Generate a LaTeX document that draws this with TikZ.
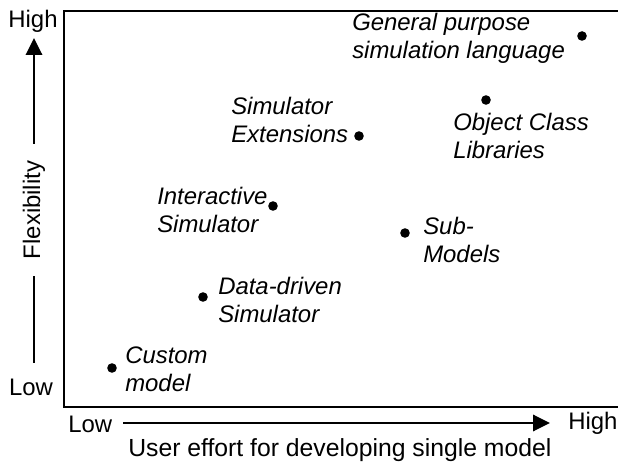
\documentclass[tikz,border=0pt]{standalone}
\usepackage{fontspec}
\setmainfont{Liberation Sans}
\usetikzlibrary{arrows.meta}

\newcommand{\chartfont}{\fontsize{17}{19.9}\selectfont}

\tikzset{
    tool/.style={circle, fill, inner sep=0pt, minimum size=2.4mm},
    toollabel/.style={inner sep=0pt, anchor=north west, align=left, font=\chartfont\itshape},
    axislabel/.style={inner sep=0pt, font=\chartfont},
}

\begin{document}
\begin{tikzpicture}
    \useasboundingbox (0, 0) rectangle (15.45, 11.55);

    % frame (open on the right)
    \draw[line width=1.4pt] (15.6, 11.275) -- (1.6, 11.275) -- (1.6, 1.375) -- (15.6, 1.375);

    % axes
    \node[axislabel, rotate=90, inner xsep=4.2mm] (flex) at (0.85, 6.3) {Flexibility};
    \node[axislabel, anchor=base] (yhigh) at (0.825, 10.85) {High};
    \node[axislabel, anchor=base] (ylow) at (0.775, 1.65) {Low};
    \coordinate (ybot) at (0.85, 2.475);
    \coordinate (ytop) at (0.85, 10.6);

    \node[axislabel, anchor=base west] (xlow) at (1.7, 0.75) {Low};
    \node[axislabel, anchor=base west] (xhigh) at (14.2, 0.825) {High};
    \node[axislabel, anchor=base west, font=\fontsize{17.6}{20}\selectfont] (effort) at (3.2, 0.15) {User effort for developing single model};
    \coordinate (xleft) at (3.075, 0.975);
    \coordinate (xright) at (13.75, 0.975);

    \begin{scope}[line width=2pt]
        \draw (ybot) -- (flex.west);
        \draw[-{Triangle[length=4.2mm, width=4mm]}] (flex.east) -- (ytop);
        \draw[-{Triangle[length=4.2mm, width=4mm]}] (xleft) -- (xright);
    \end{scope}

    % tools
    \node[tool] (custom) at (2.8, 2.35) {};
    \node[tool] (datadriven) at (5.075, 4.125) {};
    \node[tool] (interactive) at (6.825, 6.4) {};
    \node[tool] (extensions) at (8.975, 8.15) {};
    \node[tool] (submodels) at (10.125, 5.725) {};
    \node[tool] (objclass) at (12.15, 9.05) {};
    \node[tool] (general) at (14.55, 10.65) {};

    \node[toollabel] (customlabel) at (3.125, 2.875) {Custom \\ model};
    \node[toollabel] (datadrivenlabel) at (5.45, 4.625) {Data-driven \\ Simulator};
    \node[toollabel] (interactivelabel) at (3.925, 6.875) {Interactive \\ Simulator};
    \node[toollabel] (extensionslabel) at (5.775, 9.125) {Simulator \\ Extensions};
    \node[toollabel] (submodelslabel) at (10.575, 6.125) {Sub- \\ Models};
    \node[toollabel] (objclasslabel) at (11.325, 8.725) {Object Class \\ Libraries};
    \node[toollabel] (generallabel) at (8.8, 11.225) {General purpose \\ simulation language};
\end{tikzpicture}
\end{document}
